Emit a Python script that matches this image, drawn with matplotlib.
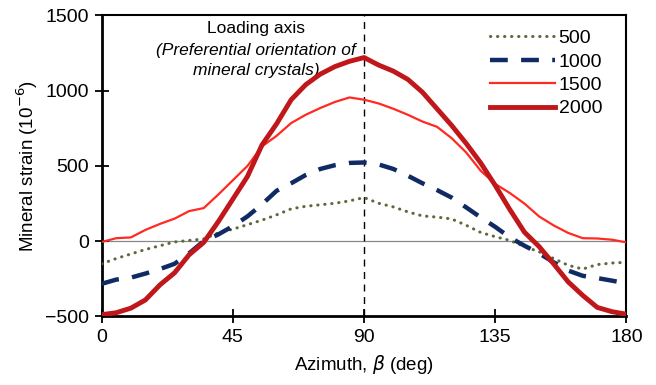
import numpy as np
import matplotlib.pyplot as plt

plt.rcParams['font.family'] = ['Liberation Sans', 'DejaVu Sans']

# azimuth (deg)
azimuth = np.arange(0, 181, 5)

# mineral strain (1e-6) for each load level
strain_500 = [-150, -115, -85, -55, -30, -5, 5, 15, 55, 80, 110, 140, 175,
              215, 232, 242, 252, 268, 290, 252, 228, 195, 168, 160, 148,
              106, 58, 30, 5, -35, -70, -115, -160, -185, -155, -145, -140]
strain_1000 = [-283, -255, -242, -215, -185, -150, -80, 0, 45, 100, 165, 245,
               335, 385, 440, 480, 505, 520, 523, 510, 480, 435, 385, 340,
               290, 225, 158, 95, 25, -30, -80, -140, -195, -230, -245, -262,
               -280]
strain_1500 = [-5, 20, 25, 75, 115, 150, 200, 220, 310, 405, 500, 630, 700,
               785, 840, 885, 925, 955, 940, 915, 880, 840, 795, 760, 685,
               590, 468, 380, 320, 250, 165, 105, 55, 20, 18, 10, -8]
strain_2000 = [-488, -475, -445, -390, -290, -210, -90, -8, 130, 280, 430,
               640, 780, 940, 1040, 1110, 1160, 1195, 1220, 1170, 1130, 1075,
               990, 880, 770, 650, 520, 370, 210, 60, -35, -150, -270, -360,
               -440, -468, -485]

labels = ['500', '1000', '1500', '2000']

fig, ax = plt.subplots(figsize=(6.56, 3.85), dpi=100)
fig.subplots_adjust(left=0.155, right=0.955, top=0.96, bottom=0.178)

ax.axhline(0, color='#888888', lw=0.9, zorder=1)
ax.axvline(90, color='black', lw=1.0, ls=(0, (5, 4)), zorder=1)

ax.plot(azimuth, strain_500, color='#5b6b3c', lw=2.2, ls=(0, (0.1, 2.2)),
        dash_capstyle='round', label=labels[0], zorder=3)
ax.plot(azimuth, strain_1000, color='#102a63', lw=3.2, ls=(0, (4, 3)),
        label=labels[1], zorder=3)
ax.plot(azimuth, strain_1500, color='#ff2a22', lw=1.6, label=labels[2], zorder=4)
ax.plot(azimuth, strain_2000, color='#c0171b', lw=3.5, label=labels[3], zorder=5)

ax.set_xlim(0, 180)
ax.set_ylim(-500, 1500)
ax.set_xticks([0, 45, 90, 135, 180])
ax.set_yticks([-500, 0, 500, 1000, 1500])
ax.tick_params(axis='both', direction='inout', length=10, width=1.3,
               labelsize=14, pad=4)
for side in ['left', 'bottom']:
    ax.spines[side].set_linewidth(2.0)
for side in ['top', 'right']:
    ax.spines[side].set_linewidth(1.5)

ax.set_xlabel(r'Azimuth, $\it{\beta}$ (deg)', fontsize=13.5, labelpad=5)
ax.set_ylabel('Mineral strain (10$^{-6}$)', fontsize=13.5, labelpad=4)

ax.text(53, 1415, 'Loading axis', ha='center', va='center', fontsize=12.5)
ax.text(53, 1270, '(Preferential orientation of', ha='center', va='center',
        fontsize=12.5, style='italic')
ax.text(53, 1135, 'mineral crystals)', ha='center', va='center',
        fontsize=12.5, style='italic')

ax.legend(loc='upper right', bbox_to_anchor=(0.983, 1.005), frameon=False,
          fontsize=14, handlelength=3.3, handletextpad=0.2, labelspacing=0.3,
          borderaxespad=0.4)

fig.savefig('out.png', dpi=100)
